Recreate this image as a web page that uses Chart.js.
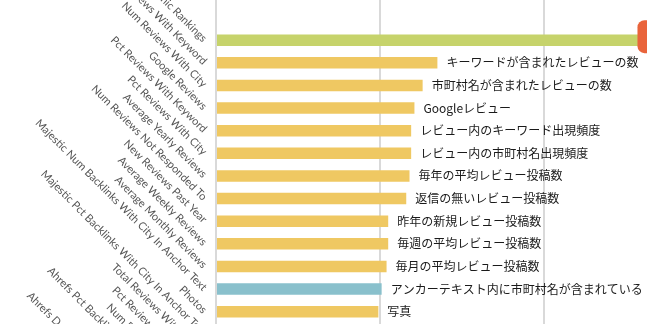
<!DOCTYPE html>
<html>
<head>
<meta charset="utf-8">
<script src="https://cdn.jsdelivr.net/npm/chart.js@4.4.1/dist/chart.umd.min.js"></script>
<style>
  html, body { margin: 0; padding: 0; background: #fff; overflow: hidden; width: 647px; height: 324px; }
  #wrap { position: absolute; left: 0; top: -34px; width: 708px; height: 533px; }
</style>
</head>
<body>
<div id="wrap"><canvas id="chart" width="708" height="533"></canvas></div>
<script>
// ranking factors (English axis labels), top to bottom
const factors = [
  '', '',
  'Organic Rankings',
  'Num Reviews With Keyword',
  'Num Reviews With City',
  'Google Reviews',
  'Pct Reviews With Keyword',
  'Pct Reviews With City',
  'Average Yearly Reviews',
  'Num Reviews Not Responded To',
  'New Reviews Past Year',
  'Average Weekly Reviews',
  'Average Monthly Reviews',
  'Majestic Num Backlinks With City In Anchor Text',
  'Photos',
  'Majestic Pct Backlinks With City In Anchor Text',
  'Total Reviews With Photos',
  'Pct Reviews Responded To',
  'Num Reviews Responded To',
  'Ahrefs Pct Backlinks With City In Anchor Text',
  'Ahrefs Referring Domains',
  'Ahrefs Dofollow Backlinks With City In Anchor Text'
];

// Japanese notes written next to the bars
const notesJa = [
  '', '',
  'オーガニック検索順位',
  'キーワードが含まれたレビューの数',
  '市町村名が含まれたレビューの数',
  'Googleレビュー',
  'レビュー内のキーワード出現頻度',
  'レビュー内の市町村名出現頻度',
  '毎年の平均レビュー投稿数',
  '返信の無いレビュー投稿数',
  '昨年の新規レビュー投稿数',
  '毎週の平均レビュー投稿数',
  '毎月の平均レビュー投稿数',
  'アンカーテキスト内に市町村名が含まれている',
  '写真',
  '', '', '', '', '', '', ''
];

// correlation values (rows below the crop are not visible -> null)
const correlation = [
  null, null,
  0.32,
  0.135, 0.126, 0.121, 0.119, 0.119, 0.118, 0.116,
  0.105, 0.105, 0.104, 0.101, 0.099,
  null, null, null, null, null, null, null
];

const barColors = factors.map((f, i) =>
  i === 2 ? '#c6d36b' : i === 13 ? '#89c0cc' : '#efc862');

const calloutIndex = 2;
const calloutAt = 0.257;

const barNotes = {
  id: 'barNotes',
  afterDatasetsDraw(chart) {
    const ctx = chart.ctx;
    const meta = chart.getDatasetMeta(0);
    const xs = chart.scales.x;
    ctx.save();
    ctx.font = '12px "Noto Sans CJK JP"';
    ctx.textBaseline = 'middle';
    meta.data.forEach((bar, i) => {
      const txt = notesJa[i];
      if (!txt || correlation[i] == null) return;
      if (i === calloutIndex) {
        const left = xs.getPixelForValue(calloutAt);
        ctx.fillStyle = '#e9643b';
        ctx.beginPath();
        ctx.roundRect(left, bar.y - 20, 140, 33, 7);
        ctx.fill();
        ctx.fillStyle = '#fff';
        ctx.fillText(txt, left + 12, bar.y - 3);
        return;
      }
      ctx.fillStyle = '#1a1a1a';
      ctx.fillText(txt, bar.x + 9, bar.y);
    });
    ctx.restore();
  }
};

new Chart(document.getElementById('chart'), {
  type: 'bar',
  data: {
    labels: factors,
    datasets: [{
      data: correlation,
      backgroundColor: barColors,
      barPercentage: 0.51,
      categoryPercentage: 1
    }]
  },
  options: {
    indexAxis: 'y',
    responsive: false,
    animation: false,
    devicePixelRatio: 1,
    layout: { padding: 0 },
    plugins: { legend: { display: false }, tooltip: { enabled: false } },
    scales: {
      x: {
        min: 0, max: 0.3,
        ticks: { display: false, stepSize: 0.1 },
        grid: { color: '#d9d9d9', lineWidth: 2, drawTicks: false },
        border: { display: false }
      },
      y: {
        ticks: {
          autoSkip: false, minRotation: -45, maxRotation: -45, padding: 11,
          color: '#555', font: { family: 'Lato', size: 11 }
        },
        grid: { display: false, drawTicks: false },
        border: { color: '#d9d9d9', width: 2 },
        afterFit(scale) { scale.width = 216; }
      }
    }
  },
  plugins: [barNotes]
});
</script>
</body>
</html>
